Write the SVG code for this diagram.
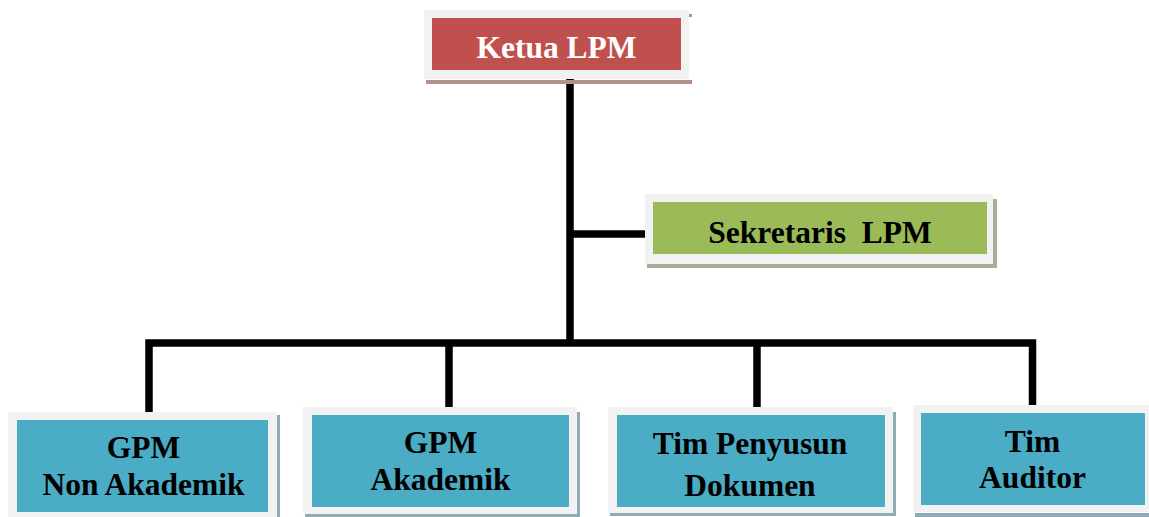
<svg xmlns="http://www.w3.org/2000/svg" width="1149" height="517" viewBox="0 0 1149 517">
<style>
.frame{fill:#f2f2f2}
.red{fill:#c0504d}
.green{fill:#9bbb59}
.blue{fill:#4bacc6}
.shr{fill:#b5918e}
.shg{fill:#a8ad97}
.shb{fill:#8fabb3}
.t{font-family:'Liberation Serif','Times New Roman',serif;font-weight:700;font-size:31.5px;text-anchor:middle}
.w{fill:#ffffff}
.k{fill:#000000}
.conn{fill:none;stroke:#000000;stroke-width:7.5;stroke-linecap:butt;stroke-linejoin:miter}
</style>
<rect width="1149" height="517" fill="#ffffff"/>
<g id="connectors">
<path class="conn" d="M570 79 V343"/>
<path class="conn" d="M570 234 H646"/>
<path class="conn" d="M149 416 V343 H1032.5 V408"/>
<path class="conn" d="M449 343 V411"/>
<path class="conn" d="M757 343 V412"/>
</g>
<g id="ketua">
<rect class="shr" x="426" y="80" width="266" height="4"/>
<rect class="shr" x="689" y="14" width="3" height="3"/>
<rect class="frame" x="424" y="10" width="265" height="69"/>
<rect class="red" x="432" y="18" width="249" height="52"/>
<text class="t w" x="556.5" y="58">Ketua LPM</text>
</g>
<g id="sekretaris">
<rect class="shg" x="647" y="264" width="350" height="4"/>
<rect class="shg" x="993" y="199" width="4" height="69"/>
<rect class="frame" x="645" y="194" width="348" height="70"/>
<rect class="green" x="653" y="202" width="334" height="52"/>
<text class="t k" x="820" y="243" xml:space="preserve">Sekretaris  LPM</text>
</g>
<g id="gpm-non-akademik">
<rect class="shb" x="277" y="415" width="3" height="102"/>
<rect class="frame" x="8" y="412" width="269" height="105"/>
<rect class="blue" x="17" y="420" width="251" height="92"/>
<text class="t k" x="143.5" y="458">GPM</text>
<text class="t k" x="143.5" y="495">Non Akademik</text>
</g>
<g id="gpm-akademik">
<rect class="shb" x="305" y="514" width="275" height="3"/>
<rect class="shb" x="577" y="412" width="3" height="105"/>
<rect class="frame" x="303" y="407" width="274" height="107"/>
<rect class="blue" x="312" y="415" width="257" height="92"/>
<text class="t k" x="440.5" y="453">GPM</text>
<text class="t k" x="440.5" y="490">Akademik</text>
</g>
<g id="tim-penyusun">
<rect class="shb" x="610" y="513" width="286" height="3"/>
<rect class="shb" x="893" y="412" width="3" height="104"/>
<rect class="frame" x="608" y="407" width="285" height="106"/>
<rect class="blue" x="617" y="415" width="268" height="92"/>
<text class="t k" x="750" y="454">Tim Penyusun</text>
<text class="t k" x="750" y="496">Dokumen</text>
</g>
<g id="tim-auditor">
<rect class="shb" x="915" y="513" width="234" height="4"/>
<rect class="frame" x="913" y="405" width="236" height="107"/>
<rect class="blue" x="921" y="413" width="224" height="92"/>
<text class="t k" x="1032.5" y="452">Tim</text>
<text class="t k" x="1032.5" y="488">Auditor</text>
</g>
</svg>
